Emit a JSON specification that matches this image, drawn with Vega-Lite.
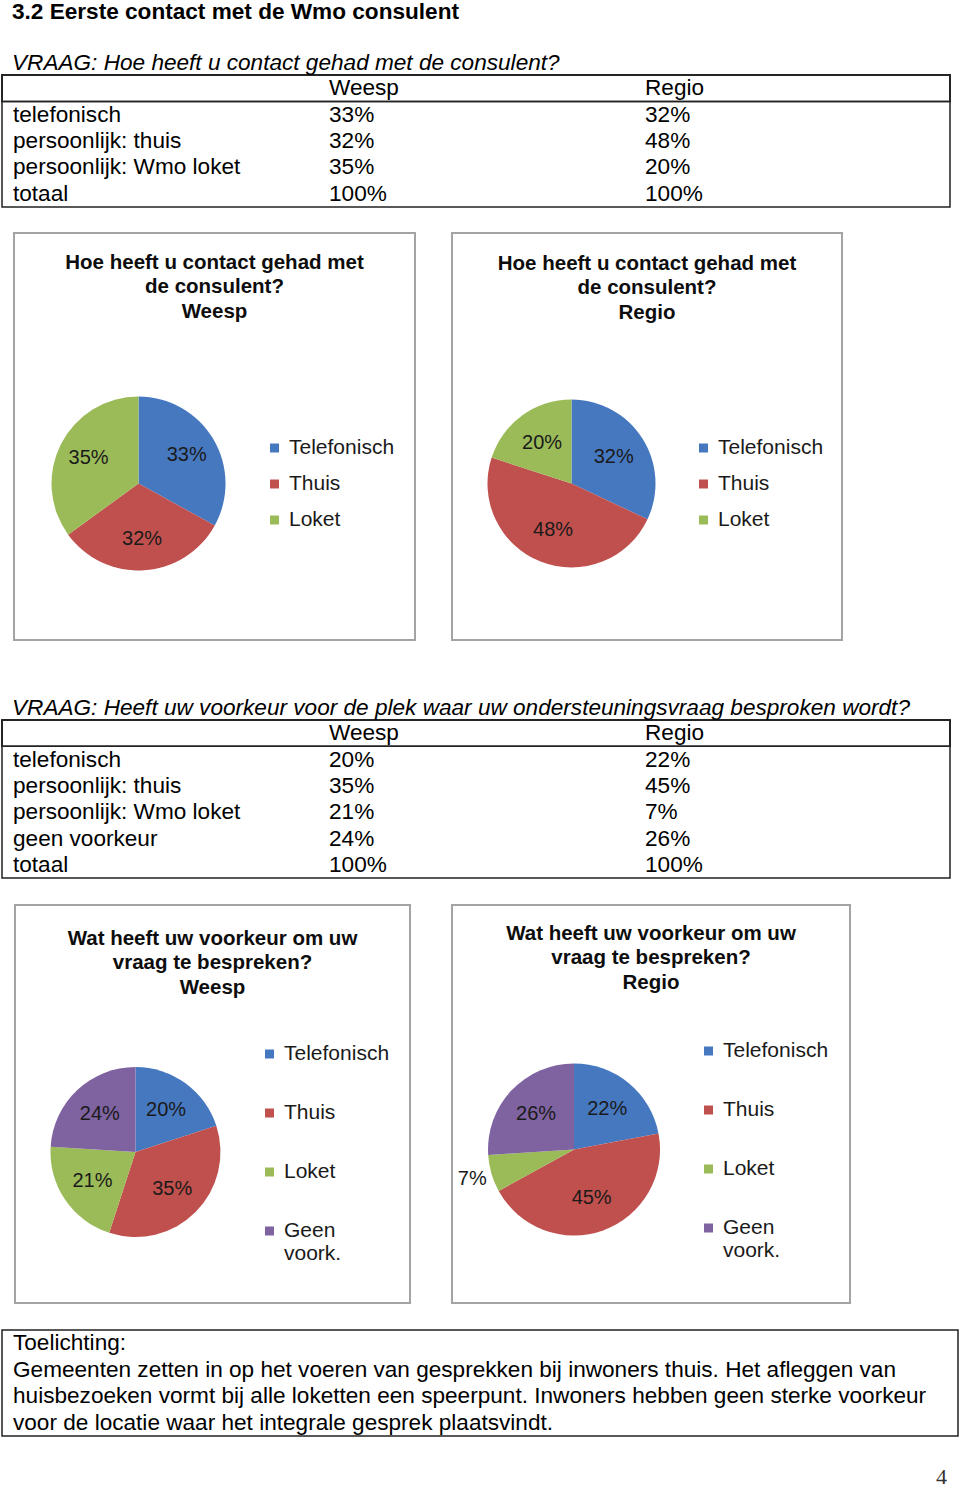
{
  "$schema": "https://vega.github.io/schema/vega-lite/v6.json",
  "padding": 0,
  "background": "white",
  "config": {
    "view": {"stroke": null},
    "font": "Liberation Sans",
    "legend": {"symbolStrokeWidth": 0}
  },
  "datasets": {
    "q1": [
      {"antwoord": "telefonisch", "legenda": "Telefonisch", "Weesp": 0.33, "Regio": 0.32},
      {"antwoord": "persoonlijk: thuis", "legenda": "Thuis", "Weesp": 0.32, "Regio": 0.48},
      {"antwoord": "persoonlijk: Wmo loket", "legenda": "Loket", "Weesp": 0.35, "Regio": 0.20},
      {"antwoord": "totaal", "legenda": null, "Weesp": 1.0, "Regio": 1.0}
    ],
    "q2": [
      {"antwoord": "telefonisch", "legenda": "Telefonisch", "Weesp": 0.20, "Regio": 0.22},
      {"antwoord": "persoonlijk: thuis", "legenda": "Thuis", "Weesp": 0.35, "Regio": 0.45},
      {"antwoord": "persoonlijk: Wmo loket", "legenda": "Loket", "Weesp": 0.21, "Regio": 0.07},
      {"antwoord": "geen voorkeur", "legenda": "Geen voork.", "Weesp": 0.24, "Regio": 0.26},
      {"antwoord": "totaal", "legenda": null, "Weesp": 1.0, "Regio": 1.0}
    ],
    "kolommen": [{"kolom": "Weesp"}, {"kolom": "Regio"}],
    "toelichting": [
      {"regel": 1, "tekst": "Toelichting:"},
      {"regel": 2, "tekst": "Gemeenten zetten in op het voeren van gesprekken bij inwoners thuis. Het afleggen van"},
      {"regel": 3, "tekst": "huisbezoeken vormt bij alle loketten een speerpunt. Inwoners hebben geen sterke voorkeur"},
      {"regel": 4, "tekst": "voor de locatie waar het integrale gesprek plaatsvindt."}
    ]
  },
  "spacing": 0,
  "resolve": {
    "scale": {"color": "independent", "theta": "independent", "x": "independent", "y": "independent"},
    "legend": {"color": "independent"}
  },
  "vconcat": [
    {
      "width": 948,
      "height": 132,
      "view": {"stroke": "#222222", "strokeWidth": 1.5},
      "title": {
        "text": "3.2 Eerste contact met de Wmo consulent",
        "subtitle": "VRAAG: Hoe heeft u contact gehad met de consulent?",
        "anchor": "start", "frame": "group", "dx": 10, "offset": 0,
        "font": "Liberation Sans", "fontSize": 22.6, "fontWeight": "bold", "color": "#000000",
        "subtitleFont": "Liberation Sans", "subtitleFontSize": 22.6, "subtitleFontStyle": "italic", "subtitleColor": "#000000",
        "subtitlePadding": 28
      },
      "encoding": {
        "x": {"field": "kolom", "type": "nominal", "axis": null,
          "scale": {"type": "point", "domain": ["antwoord", "Weesp", "Regio"], "padding": 0.5, "align": 0}},
        "y": {"field": "antwoord", "type": "nominal", "axis": null,
          "scale": {"domain": ["kop", "telefonisch", "persoonlijk: thuis", "persoonlijk: Wmo loket", "totaal"], "paddingInner": 0, "paddingOuter": 0}}
      },
      "layer": [
        {
          "data": {"name": "kolommen"},
          "mark": {"type": "rect", "fill": null, "stroke": "#222222", "strokeWidth": 1.5},
          "encoding": {"x": null, "y": {"datum": "kop", "type": "nominal"}}
        },
        {
          "data": {"name": "kolommen"},
          "mark": {"type": "text", "align": "left", "baseline": "middle", "dx": 11, "fontSize": 22.6, "fill": "#000000"},
          "encoding": {
            "y": {"datum": "kop", "type": "nominal"},
            "text": {"field": "kolom"}
          }
        },
        {
          "data": {"name": "q1"},
          "mark": {"type": "text", "align": "left", "baseline": "middle", "dx": 11, "fontSize": 22.6, "fill": "#000000"},
          "encoding": {
            "x": {"datum": "antwoord", "type": "nominal"},
            "text": {"field": "antwoord"}
          }
        },
        {
          "data": {"name": "q1"},
          "transform": [{"fold": ["Weesp", "Regio"], "as": ["kolom", "waarde"]}],
          "mark": {"type": "text", "align": "left", "baseline": "middle", "dx": 11, "fontSize": 22.6, "fill": "#000000"},
          "encoding": {
            "text": {"field": "waarde", "type": "quantitative", "format": ".0%"}
          }
        }
      ]
    },
    {"width": 1, "height": 24, "data": {"values": []}, "mark": "rect"},
    {
      "spacing": 0,
      "bounds": "flush",
      "resolve": {
        "scale": {"color": "independent", "theta": "independent", "x": "independent", "y": "independent"},
        "legend": {"color": "independent"}
      },
      "hconcat": [
        {"width": 12, "height": 407, "data": {"values": []}, "mark": "rect"},
        {
          "width": 401, "height": 407,
          "view": {"stroke": "#a3a3a3", "strokeWidth": 2},
          "title": {"text": ["Hoe heeft u contact gehad met", "de consulent?", "Weesp"], "anchor": "middle", "frame": "group", "offset": -89,
            "font": "Liberation Sans", "fontSize": 20.5, "fontWeight": "bold", "lineHeight": 24.5, "color": "#0d0d0d"},
          "data": {"name": "q1"},
          "transform": [{"filter": "datum.antwoord != 'totaal'"}],
          "encoding": {
            "x": {"datum": "Weesp", "type": "nominal", "scale": {"type": "point", "align": 0.3105}, "axis": null},
            "y": {"datum": "Weesp", "type": "nominal", "scale": {"type": "point", "align": 0.6155}, "axis": null},
            "theta": {"field": "Weesp", "type": "quantitative", "stack": true},
            "order": {"field": "antwoord", "sort": "descending"}
          },
          "layer": [
            {
              "mark": {"type": "arc", "outerRadius": 87},
              "encoding": {
                "color": {"field": "legenda", "type": "nominal",
                  "scale": {"domain": ["Telefonisch", "Thuis", "Loket"], "range": ["#4678c0", "#c0504d", "#9bbb59"]},
                  "legend": {"title": null, "orient": "none", "legendX": 250, "legendY": 204.5, "padding": 0,
                    "symbolType": "square", "symbolSize": 81, "labelOffset": 4, "rowPadding": 14,
                    "labelFont": "Liberation Sans", "labelFontSize": 21, "labelColor": "#1a1a1a", "labelLimit": 200}}
              }
            },
            {
              "mark": {"type": "text", "radius": 56, "fontSize": 20, "fill": "#1a1a1a"},
              "encoding": {
                "text": {"field": "Weesp", "type": "quantitative", "format": ".0%"},
                "detail": {"field": "legenda"}
              }
            }
          ]
        },
        {"width": 37, "height": 407, "data": {"values": []}, "mark": "rect"},
        {
          "width": 390, "height": 407,
          "view": {"stroke": "#a3a3a3", "strokeWidth": 2},
          "title": {"text": ["Hoe heeft u contact gehad met", "de consulent?", "Regio"], "anchor": "middle", "frame": "group", "offset": -90,
            "font": "Liberation Sans", "fontSize": 20.5, "fontWeight": "bold", "lineHeight": 24.5, "color": "#0d0d0d"},
          "data": {"name": "q1"},
          "transform": [{"filter": "datum.antwoord != 'totaal'"}],
          "encoding": {
            "x": {"datum": "Regio", "type": "nominal", "scale": {"type": "point", "align": 0.3064}, "axis": null},
            "y": {"datum": "Regio", "type": "nominal", "scale": {"type": "point", "align": 0.6155}, "axis": null},
            "theta": {"field": "Regio", "type": "quantitative", "stack": true},
            "order": {"field": "antwoord", "sort": "descending"}
          },
          "layer": [
            {
              "mark": {"type": "arc", "outerRadius": 84},
              "encoding": {
                "color": {"field": "legenda", "type": "nominal",
                  "scale": {"domain": ["Telefonisch", "Thuis", "Loket"], "range": ["#4678c0", "#c0504d", "#9bbb59"]},
                  "legend": {"title": null, "orient": "none", "legendX": 241, "legendY": 204.5, "padding": 0,
                    "symbolType": "square", "symbolSize": 81, "labelOffset": 4, "rowPadding": 14,
                    "labelFont": "Liberation Sans", "labelFontSize": 21, "labelColor": "#1a1a1a", "labelLimit": 200}}
              }
            },
            {
              "mark": {"type": "text", "radius": 50, "fontSize": 20, "fill": "#1a1a1a"},
              "encoding": {
                "text": {"field": "Regio", "type": "quantitative", "format": ".0%"},
                "detail": {"field": "legenda"}
              }
            }
          ]
        }
      ]
    },
    {"width": 1, "height": 54, "data": {"values": []}, "mark": "rect"},
    {
      "width": 948,
      "height": 158,
      "view": {"stroke": "#222222", "strokeWidth": 1.5},
      "title": {
        "text": "VRAAG: Heeft uw voorkeur voor de plek waar uw ondersteuningsvraag besproken wordt?",
        "anchor": "start", "frame": "group", "dx": 10, "offset": 0,
        "font": "Liberation Sans", "fontSize": 22.6, "fontWeight": "normal", "fontStyle": "italic", "color": "#000000"
      },
      "encoding": {
        "x": {"field": "kolom", "type": "nominal", "axis": null,
          "scale": {"type": "point", "domain": ["antwoord", "Weesp", "Regio"], "padding": 0.5, "align": 0}},
        "y": {"field": "antwoord", "type": "nominal", "axis": null,
          "scale": {"domain": ["kop", "telefonisch", "persoonlijk: thuis", "persoonlijk: Wmo loket", "geen voorkeur", "totaal"], "paddingInner": 0, "paddingOuter": 0}}
      },
      "layer": [
        {
          "data": {"name": "kolommen"},
          "mark": {"type": "rect", "fill": null, "stroke": "#222222", "strokeWidth": 1.5},
          "encoding": {"x": null, "y": {"datum": "kop", "type": "nominal"}}
        },
        {
          "data": {"name": "kolommen"},
          "mark": {"type": "text", "align": "left", "baseline": "middle", "dx": 11, "fontSize": 22.6, "fill": "#000000"},
          "encoding": {
            "y": {"datum": "kop", "type": "nominal"},
            "text": {"field": "kolom"}
          }
        },
        {
          "data": {"name": "q2"},
          "mark": {"type": "text", "align": "left", "baseline": "middle", "dx": 11, "fontSize": 22.6, "fill": "#000000"},
          "encoding": {
            "x": {"datum": "antwoord", "type": "nominal"},
            "text": {"field": "antwoord"}
          }
        },
        {
          "data": {"name": "q2"},
          "transform": [{"fold": ["Weesp", "Regio"], "as": ["kolom", "waarde"]}],
          "mark": {"type": "text", "align": "left", "baseline": "middle", "dx": 11, "fontSize": 22.6, "fill": "#000000"},
          "encoding": {
            "text": {"field": "waarde", "type": "quantitative", "format": ".0%"}
          }
        }
      ]
    },
    {"width": 1, "height": 25, "data": {"values": []}, "mark": "rect"},
    {
      "spacing": 0,
      "bounds": "flush",
      "resolve": {
        "scale": {"color": "independent", "theta": "independent", "x": "independent", "y": "independent"},
        "legend": {"color": "independent"}
      },
      "hconcat": [
        {"width": 13, "height": 398, "data": {"values": []}, "mark": "rect"},
        {
          "width": 395, "height": 398,
          "view": {"stroke": "#a3a3a3", "strokeWidth": 2},
          "title": {"text": ["Wat heeft uw voorkeur om uw", "vraag te bespreken?", "Weesp"], "anchor": "middle", "frame": "group", "offset": -93,
            "font": "Liberation Sans", "fontSize": 20.5, "fontWeight": "bold", "lineHeight": 24.5, "color": "#0d0d0d"},
          "data": {"name": "q2"},
          "transform": [{"filter": "datum.antwoord != 'totaal'"}],
          "encoding": {
            "x": {"datum": "Weesp", "type": "nominal", "scale": {"type": "point", "align": 0.305}, "axis": null},
            "y": {"datum": "Weesp", "type": "nominal", "scale": {"type": "point", "align": 0.6206}, "axis": null},
            "theta": {"field": "Weesp", "type": "quantitative", "stack": true},
            "order": {"field": "antwoord", "sort": "descending"}
          },
          "layer": [
            {
              "mark": {"type": "arc", "outerRadius": 85},
              "encoding": {
                "color": {"field": "legenda", "type": "nominal",
                  "scale": {"domain": ["Telefonisch", "Thuis", "Loket", "Geen voork."], "range": ["#4678c0", "#c0504d", "#9bbb59", "#7f63a1"]},
                  "legend": {"title": null, "orient": "none", "legendX": 244, "legendY": 138.5, "padding": 0,
                    "symbolType": "square", "symbolSize": 81, "labelOffset": 4, "rowPadding": 37,
                    "labelFont": "Liberation Sans", "labelFontSize": 21, "labelColor": "#1a1a1a", "labelLimit": 200,
                    "labelExpr": "datum.label == 'Geen voork.' ? ['Geen', 'voork.'] : datum.label"}}
              }
            },
            {
              "mark": {"type": "text", "radius": 52, "fontSize": 20, "fill": "#1a1a1a"},
              "encoding": {
                "text": {"field": "Weesp", "type": "quantitative", "format": ".0%"},
                "detail": {"field": "legenda"}
              }
            }
          ]
        },
        {"width": 42, "height": 398, "data": {"values": []}, "mark": "rect"},
        {
          "width": 398, "height": 398,
          "view": {"stroke": "#a3a3a3", "strokeWidth": 2},
          "title": {"text": ["Wat heeft uw voorkeur om uw", "vraag te bespreken?", "Regio"], "anchor": "middle", "frame": "group", "offset": -88,
            "font": "Liberation Sans", "fontSize": 20.5, "fontWeight": "bold", "lineHeight": 24.5, "color": "#0d0d0d"},
          "data": {"name": "q2"},
          "transform": [{"filter": "datum.antwoord != 'totaal'"}],
          "encoding": {
            "x": {"datum": "Regio", "type": "nominal", "scale": {"type": "point", "align": 0.3066}, "axis": null},
            "y": {"datum": "Regio", "type": "nominal", "scale": {"type": "point", "align": 0.6143}, "axis": null},
            "theta": {"field": "Regio", "type": "quantitative", "stack": true},
            "order": {"field": "antwoord", "sort": "descending"}
          },
          "layer": [
            {
              "mark": {"type": "arc", "outerRadius": 86},
              "encoding": {
                "color": {"field": "legenda", "type": "nominal",
                  "scale": {"domain": ["Telefonisch", "Thuis", "Loket", "Geen voork."], "range": ["#4678c0", "#c0504d", "#9bbb59", "#7f63a1"]},
                  "legend": {"title": null, "orient": "none", "legendX": 246, "legendY": 135.5, "padding": 0,
                    "symbolType": "square", "symbolSize": 81, "labelOffset": 4, "rowPadding": 37,
                    "labelFont": "Liberation Sans", "labelFontSize": 21, "labelColor": "#1a1a1a", "labelLimit": 200,
                    "labelExpr": "datum.label == 'Geen voork.' ? ['Geen', 'voork.'] : datum.label"}}
              }
            },
            {
              "mark": {"type": "text", "radius": 52, "fontSize": 20, "fill": "#1a1a1a"},
              "encoding": {
                "text": {"field": "Regio", "type": "quantitative", "format": ".0%"},
                "detail": {"field": "legenda"},
                "opacity": {"condition": {"test": "datum.Regio < 0.1", "value": 0}, "value": 1}
              }
            },
            {
              "mark": {"type": "text", "radius": 106, "fontSize": 20, "fill": "#1a1a1a"},
              "encoding": {
                "text": {"field": "Regio", "type": "quantitative", "format": ".0%"},
                "detail": {"field": "legenda"},
                "opacity": {"condition": {"test": "datum.Regio >= 0.1", "value": 0}, "value": 1}
              }
            }
          ]
        }
      ]
    },
    {"width": 1, "height": 25, "data": {"values": []}, "mark": "rect"},
    {
      "width": 956,
      "height": 106,
      "view": {"stroke": "#222222", "strokeWidth": 1.5},
      "title": {"text": "4", "orient": "bottom", "anchor": "end", "frame": "group", "offset": 31, "dx": -11,
        "font": "Liberation Serif", "fontSize": 22, "fontWeight": "normal", "color": "#333333"},
      "data": {"name": "toelichting"},
      "mark": {"type": "text", "align": "left", "baseline": "middle", "dx": 11, "fontSize": 22.6, "fill": "#000000"},
      "encoding": {
        "x": {"datum": "tekst", "type": "nominal", "scale": {"type": "point", "align": 0}, "axis": null},
        "y": {"field": "regel", "type": "ordinal", "scale": {"paddingInner": 0, "paddingOuter": 0}, "axis": null},
        "text": {"field": "tekst"}
      }
    }
  ]
}
